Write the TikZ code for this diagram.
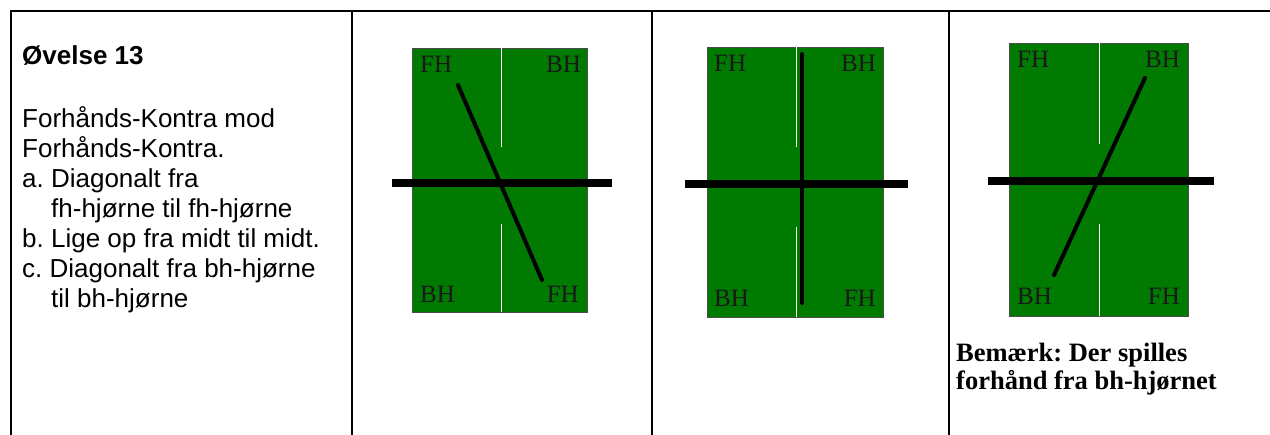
\documentclass[tikz,border=0pt]{standalone}
\usepackage{fontspec}
\setmainfont{Liberation Sans}
\newfontfamily\timesf{Liberation Serif}
\frenchspacing
\begin{document}
\begin{tikzpicture}[x=1pt,y=-1pt,
  frame/.style={line width=2pt,black},
  tbl/.style={fill=tablegreen,draw=black!70,line width=0.6pt},
  netline/.style={line width=8pt,black},
  mid/.style={white,line width=1pt},
  ball/.style={line width=4pt,black,line cap=round},
  lbl/.style={inner sep=0pt,font=\timesf\fontsize{25}{28}\selectfont,text=black!90},
  txt/.style={inner sep=0pt,anchor=base west,font=\fontsize{26}{30}\selectfont},
  note/.style={inner sep=0pt,anchor=base west,font=\timesf\bfseries\fontsize{26.5}{29}\selectfont}]
\definecolor{tablegreen}{RGB}{0,122,0}
\useasboundingbox (0,0) rectangle (1270,435);
\fill[white] (0,0) rectangle (1270,435);
% frame
\draw[frame] (11,435) -- (11,11) -- (1270,11);
\draw[frame] (352,11) -- (352,435);
\draw[frame] (652,11) -- (652,435);
\draw[frame] (949,11) -- (949,435);
% text panel
\node[txt,font=\bfseries\fontsize{26}{30}\selectfont] (title) at (22,65) {Øvelse 13};
\node[txt] (l1) at (22,128) {Forhånds-Kontra mod};
\node[txt] (l2) at (22,158) {Forhånds-Kontra.};
\node[txt] (l3) at (22,188) {a. Diagonalt fra};
\node[txt] (l4) at (51,218) {fh-hjørne til fh-hjørne};
\node[txt] (l5) at (22,248) {b. Lige op fra midt til midt.};
\node[txt] (l6) at (22,278) {c. Diagonalt fra bh-hjørne};
\node[txt] (l7) at (51,308) {til bh-hjørne};
% table a
\draw[tbl] (412,48) rectangle (587,312);
\draw[mid] (501,48) -- (501,147);
\draw[mid] (501,224) -- (501,312);
\node[lbl,anchor=base west] (a1) at (420,73) {FH};
\node[lbl,anchor=base east] (a2) at (581,73) {BH};
\node[lbl,anchor=base west] (a3) at (420,303) {BH};
\node[lbl,anchor=base east] (a4) at (579,303) {FH};
\draw[netline] (392,183) -- (612,183);
\coordinate (as) at (458,85);
\coordinate (ae) at (542,280);
\draw[ball] (as) -- (ae);
% table b
\draw[tbl] (707,47) rectangle (883,317);
\draw[mid] (796,47) -- (796,147);
\draw[mid] (796,227) -- (796,317);
\node[lbl,anchor=base west] (b1) at (714,72) {FH};
\node[lbl,anchor=base east] (b2) at (876,72) {BH};
\node[lbl,anchor=base west] (b3) at (714,307) {BH};
\node[lbl,anchor=base east] (b4) at (876,307) {FH};
\draw[netline] (685,184) -- (908,184);
\coordinate (bs) at (802,54);
\coordinate (be) at (802,303);
\draw[ball] (bs) -- (be);
% table c
\draw[tbl] (1009,43) rectangle (1188,316);
\draw[mid] (1099,43) -- (1099,144);
\draw[mid] (1099,224) -- (1099,316);
\node[lbl,anchor=base west] (c1) at (1017,68) {FH};
\node[lbl,anchor=base east] (c2) at (1180,68) {BH};
\node[lbl,anchor=base west] (c3) at (1017,305) {BH};
\node[lbl,anchor=base east] (c4) at (1180,305) {FH};
\draw[netline] (988,181) -- (1214,181);
\coordinate (cs) at (1145,78);
\coordinate (ce) at (1054,275);
\draw[ball] (cs) -- (ce);
% note
\node[note] (n1) at (956,362) {Bemærk: Der spilles};
\node[note] (n2) at (956,390) {forhånd fra bh-hjørnet};
\end{tikzpicture}
\end{document}
